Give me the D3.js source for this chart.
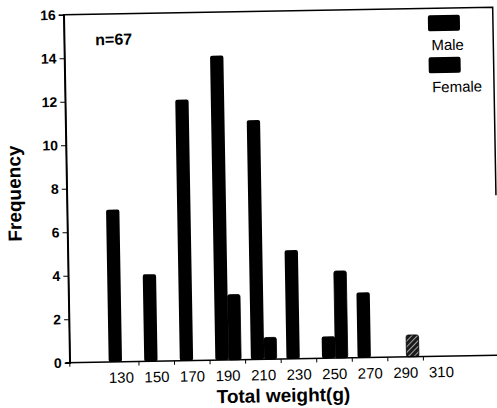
<!DOCTYPE html>
<html>
<head>
<meta charset="utf-8">
<script src="https://cdn.jsdelivr.net/npm/d3@7"></script>
<style>
  body { margin: 0; background: #fff; }
  text { font-family: "Liberation Sans", Arial, sans-serif; fill: #000; }
</style>
</head>
<body>
<div id="chart"></div>
<script>
// data
var bins     = [130, 150, 170, 190, 210, 230, 250, 270, 290, 310];
var male     = [7, 4, 12, 14, 11, 5, 1, 3, 0, 0];
var female   = [0, 0, 0, 3, 1, 0, 4, 0, 1, 0];
var yTicks   = [0, 2, 4, 6, 8, 10, 12, 14, 16];
var edges    = [140, 160, 180, 200, 220, 240, 260, 280, 300];
var seriesNames = ['Male', 'Female'];

// layout (note: "top" is reserved on window, so plotTop etc.)
var width      = 497
  , height     = 408
  , plotLeft   = 67
  , plotRight  = 496
  , plotTop    = 11
  , plotBottom = 359
  , binW       = 7.5
;

var svg = d3.select('#chart').append('svg')
    .attr('width', width)
    .attr('height', height);

var defs = svg.append('defs');
var pat = defs.append('pattern')
    .attr('id', 'hatch')
    .attr('patternUnits', 'userSpaceOnUse')
    .attr('width', 4).attr('height', 4)
    .attr('patternTransform', 'rotate(45)');
pat.append('rect').attr('width', 4).attr('height', 4).attr('fill', '#1a1a1a');
pat.append('line').attr('x1', 0).attr('y1', 0).attr('x2', 0).attr('y2', 4)
    .attr('stroke', '#fff').attr('stroke-width', 1.2);

// the scan is slightly tilted
var g = svg.append('g').attr('transform', 'rotate(-1, 280, 200)');

var x = d3.scaleLinear().domain([100, 345]).range([65, 500.6]);
var y = d3.scaleLinear().domain([0, 16]).range([plotBottom, plotTop]);

// bars
var rows = bins.map(function (b, i) { return { bin: b, male: male[i], female: female[i] }; });

g.selectAll('rect.male')
    .data(rows.filter(function (d) { return d.male > 0; }))
    .enter().append('rect')
    .attr('class', 'male')
    .attr('x', function (d) { return x(d.bin - binW + 0.5); })
    .attr('width', function (d) { return x(d.bin + 0.5) - x(d.bin - binW + 0.5); })
    .attr('y', function (d) { return y(d.male); })
    .attr('height', function (d) { return y(0) - y(d.male); })
    .attr('rx', 2)
    .attr('fill', '#000');

g.selectAll('rect.female')
    .data(rows.filter(function (d) { return d.female > 0; }))
    .enter().append('rect')
    .attr('class', 'female')
    .attr('x', function (d) { return x(d.bin + 0.5); })
    .attr('width', function (d) { return x(d.bin + binW) - x(d.bin + 0.5); })
    .attr('y', function (d) { return y(d.female); })
    .attr('height', function (d) { return y(0) - y(d.female); })
    .attr('rx', 2)
    .attr('fill', function (d) { return d.male === 0 && d.bin > 270 ? 'url(#hatch)' : '#000'; })
    .attr('stroke', '#000')
    .attr('stroke-width', 0.8);

// frame
g.append('path')
    .attr('d', 'M' + plotLeft + ',' + plotBottom + 'V' + plotTop + 'H' + plotRight + 'V' + (plotBottom - 160))
    .attr('fill', 'none').attr('stroke', '#000').attr('stroke-width', 1.5);

// y axis
var yAxis = d3.axisLeft(y).tickValues(yTicks).tickSize(5).tickPadding(3);
var ya = g.append('g').attr('transform', 'translate(' + plotLeft + ',0)').call(yAxis);
ya.select('.domain').attr('stroke-width', 1.5);
ya.selectAll('text')
    .style('font-size', '14px').style('font-weight', 'bold')
    .style('font-family', '"Liberation Sans", Arial, sans-serif');

// x axis: bin-edge ticks, labels at bin centres
g.append('line')
    .attr('x1', plotLeft - 4).attr('x2', width + 4)
    .attr('y1', plotBottom).attr('y2', plotBottom)
    .attr('stroke', '#000').attr('stroke-width', 1.6);

g.selectAll('line.edge')
    .data([100].concat(edges))
    .enter().append('line')
    .attr('class', 'edge')
    .attr('x1', function (d) { return d === 100 ? plotLeft : x(d); })
    .attr('x2', function (d) { return d === 100 ? plotLeft : x(d); })
    .attr('y1', plotBottom).attr('y2', plotBottom + 4)
    .attr('stroke', '#000').attr('stroke-width', 1);

g.selectAll('text.bin')
    .data(bins)
    .enter().append('text')
    .attr('class', 'bin')
    .attr('x', function (d) { return x(d); })
    .attr('y', 380)
    .attr('text-anchor', 'middle')
    .style('font-size', '15px')
    .text(function (d) { return d; });

// titles
g.append('text')
    .attr('x', 280).attr('y', 402)
    .attr('text-anchor', 'middle')
    .style('font-size', '19px').style('font-weight', 'bold')
    .text('Total weight(g)');

g.append('text')
    .attr('transform', 'translate(21,189) rotate(-90)')
    .attr('text-anchor', 'middle')
    .style('font-size', '19px').style('font-weight', 'bold')
    .text('Frequency');

g.append('text')
    .attr('x', 98).attr('y', 42)
    .style('font-size', '16px').style('font-weight', 'bold')
    .text('n=67');

// legend
var legend = g.selectAll('g.legend')
    .data(seriesNames)
    .enter().append('g')
    .attr('class', 'legend')
    .attr('transform', function (d, i) { return 'translate(431,' + (18 + i * 42) + ')'; });

legend.append('rect')
    .attr('width', 32).attr('height', 16)
    .attr('rx', 2)
    .attr('fill', '#000');

legend.append('text')
    .attr('x', 3).attr('y', 35)
    .style('font-size', '15px')
    .text(function (d) { return d; });
</script>
</body>
</html>
